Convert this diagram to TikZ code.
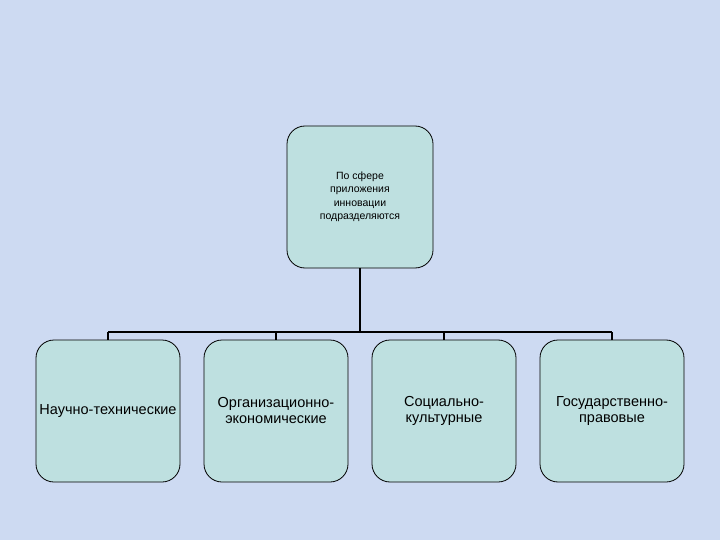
\documentclass[tikz,border=0pt]{standalone}
\usepackage{fontspec}
\setmainfont{Liberation Sans}
\usetikzlibrary{positioning}
\definecolor{bgblue}{RGB}{205,218,242}
\definecolor{boxteal}{RGB}{190,224,224}

\begin{document}
\begin{tikzpicture}[x=1pt, y=-1pt,
  card/.style={draw=black, line width=0.8pt, fill=boxteal, rounded corners=18pt, minimum width=144pt, minimum height=142pt, inner sep=0pt, align=center, font=\fontsize{14.5}{16}\selectfont},
  head/.style={card, minimum width=146pt, font=\fontsize{10.5}{13.5}\selectfont},
  link/.style={black, line width=1.6pt}]
\fill[bgblue] (0,0) rectangle (720,540);
\node[head] (top) at (360,197) {По сфере\\приложения\\инновации\\подразделяются};
\coordinate (bus) at (360,332);
\foreach \x/\n/\t in {108/sci/{Научно-технические}, 276/org/{Организационно-\\экономические}, 444/soc/{Социально-\\культурные}, 612/gov/{Государственно-\\правовые}} {
 \node[card] (\n) at (\x,411) {\t};
 \draw[link] (\n.north) -- (\n.north |- bus);
}
\draw[link] (top.south) -- (bus);
\draw[link] (sci.north |- bus) -- (gov.north |- bus);
\end{tikzpicture}
\end{document}
